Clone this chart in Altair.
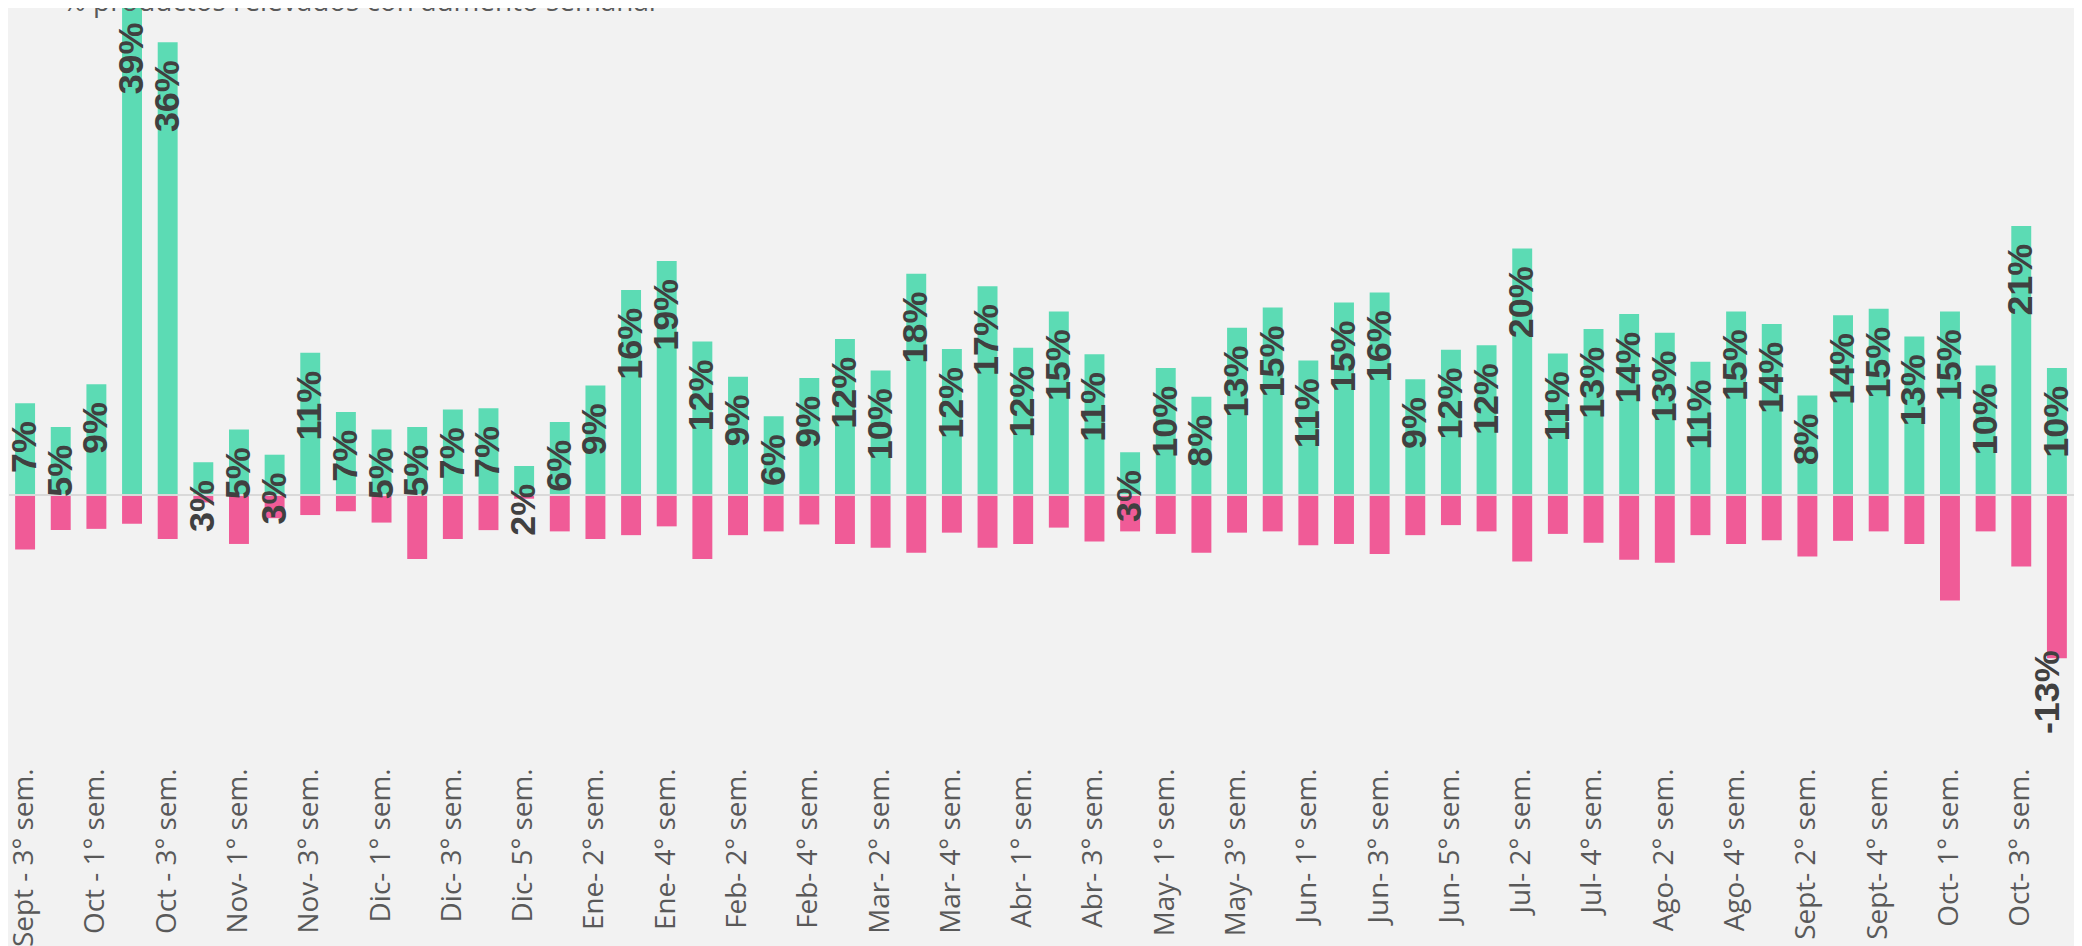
import altair as alt
import pandas as pd

weeks = [
    "Sept - 3° sem.", "Sept - 4° sem.", "Oct - 1° sem.", "Oct - 2° sem.", "Oct - 3° sem.", "Oct - 4° sem.",
    "Nov- 1° sem.", "Nov- 2° sem.", "Nov- 3° sem.", "Nov- 4° sem.",
    "Dic- 1° sem.", "Dic- 2° sem.", "Dic- 3° sem.", "Dic- 4° sem.", "Dic- 5° sem.",
    "Ene- 1° sem.", "Ene- 2° sem.", "Ene- 3° sem.", "Ene- 4° sem.",
    "Feb- 1° sem.", "Feb- 2° sem.", "Feb- 3° sem.", "Feb- 4° sem.",
    "Mar- 1° sem.", "Mar- 2° sem.", "Mar- 3° sem.", "Mar- 4° sem.", "Mar- 5° sem.",
    "Abr- 1° sem.", "Abr- 2° sem.", "Abr- 3° sem.", "Abr- 4° sem.",
    "May- 1° sem.", "May- 2° sem.", "May- 3° sem.", "May- 4° sem.",
    "Jun- 1° sem.", "Jun- 2° sem.", "Jun- 3° sem.", "Jun- 4° sem.", "Jun- 5° sem.",
    "Jul- 1° sem.", "Jul- 2° sem.", "Jul- 3° sem.", "Jul- 4° sem.",
    "Ago- 1° sem.", "Ago- 2° sem.", "Ago- 3° sem.", "Ago- 4° sem.",
    "Sept- 1° sem.", "Sept- 2° sem.", "Sept- 3° sem.", "Sept- 4° sem.", "Sept- 5° sem.",
    "Oct- 1° sem.", "Oct- 2° sem.", "Oct- 3° sem.", "Oct- 4° sem.",
]

# % of products with weekly increase (green)
up = [
    7.3, 5.4, 8.8, 39.0, 36.0, 2.6, 5.2, 3.2, 11.3, 6.6,
    5.2, 5.4, 6.8, 6.9, 2.3, 5.8, 8.7, 16.3, 18.6, 12.2,
    9.4, 6.25, 9.3, 12.4, 9.9, 17.6, 11.6, 16.6, 11.7, 14.6,
    11.2, 3.4, 10.1, 7.8, 13.3, 14.9, 10.7, 15.3, 16.1, 9.2,
    11.55, 11.9, 19.6, 11.25, 13.2, 14.4, 12.9, 10.6, 14.6, 13.6,
    7.9, 14.3, 14.8, 12.6, 14.6, 10.3, 21.4, 10.1,
]

# % of products with weekly decrease (pink, negative)
down = [
    -4.35, -2.8, -2.7, -2.3, -3.5, -0.6, -3.9, -1.85, -1.6, -1.3,
    -2.2, -5.1, -3.5, -2.8, -0.3, -2.9, -3.5, -3.2, -2.5, -5.1,
    -3.2, -2.9, -2.35, -3.9, -4.2, -4.6, -3.0, -4.2, -3.9, -2.6,
    -3.7, -2.9, -3.1, -4.6, -3.0, -2.9, -4.0, -3.9, -4.7, -3.2,
    -2.4, -2.9, -5.3, -3.1, -3.8, -5.15, -5.4, -3.2, -3.9, -3.6,
    -4.9, -3.65, -2.9, -3.9, -8.4, -2.9, -5.7, -13.0,
]

down_labels = [""] * 57 + ["-13%"]

legend_text = ["% productos relevados con aumento semanal"]

W = 2074
H = 751

df = pd.DataFrame({"week": weeks, "up": up, "down": down, "dlabel": down_labels})

yscale = alt.Scale(domain=[-20.92, 38.59], nice=False, zero=False)

base = alt.Chart(df).encode(
    x=alt.X(
        "week:N",
        sort=weeks,
        scale=alt.Scale(paddingInner=0.441, paddingOuter=0.2),
        axis=alt.Axis(
            values=weeks[::2],
            title=None,
            labelAngle=270,
            labelAlign="right",
            labelBaseline="middle",
            labelFont="Open Sans",
            labelFontSize=28,
            labelColor="#595959",
            labelPadding=10,
            labelOverlap=False,
            ticks=False,
            tickSize=0,
            domain=False,
            grid=False,
        ),
    )
)

green = base.mark_bar(color="#5CDBB4").encode(
    y=alt.Y("up:Q", scale=yscale, axis=None), y2=alt.datum(0)
)
pink = base.mark_bar(color="#F05B97").encode(
    y=alt.Y("down:Q", scale=yscale, axis=None), y2=alt.datum(0)
)

zero = alt.Chart(pd.DataFrame({"z": [0]})).mark_rule(color="#D9D9D9", strokeWidth=2).encode(
    y=alt.Y("z:Q", scale=yscale, axis=None), x=alt.value(1), x2=alt.value(W)
)

up_labels = base.transform_calculate(lbl="format(datum.up, '.0f') + '%'").mark_text(
    angle=270, align="right", baseline="middle", dx=-18,
    font="Liberation Sans", fontWeight="bold", fontSize=36, color="#404040",
).encode(y=alt.Y("up:Q", scale=yscale, axis=None), text="lbl:N")

dn_labels = base.mark_text(
    angle=270, align="right", baseline="middle", dx=8, dy=-9,
    font="Liberation Sans", fontWeight="bold", fontSize=36, color="#404040",
).encode(y=alt.Y("down:Q", scale=yscale, axis=None), text="dlabel:N")

legend = alt.Chart(pd.DataFrame({"t": legend_text})).mark_text(
    align="left", baseline="alphabetic", font="Open Sans", fontSize=28, color="#595959"
).encode(x=alt.value(55), y=alt.value(1), text="t:N")

chart = alt.layer(green, pink, zero, up_labels, dn_labels, legend).properties(
    width=W,
    height=H,
    autosize=alt.AutoSizeParams(type="none"),
    padding={"left": 0, "top": 0, "right": 0, "bottom": 187},
).configure(background="#F2F2F2").configure_view(stroke=None)

chart.save("out.html", embed_options={"renderer": "svg", "actions": False})
